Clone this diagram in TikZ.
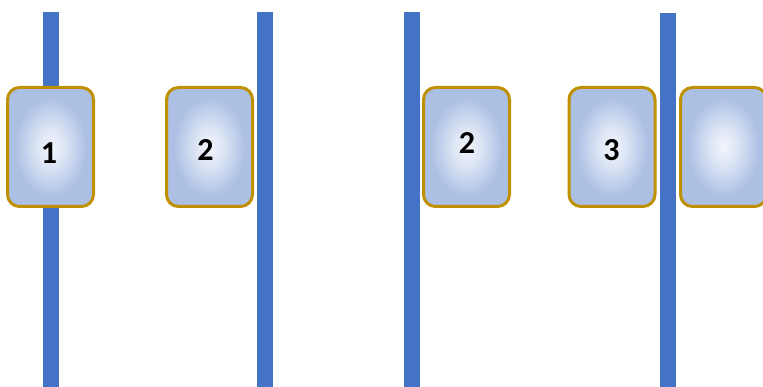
\documentclass[tikz,border=0pt]{standalone}
\usepackage{fontspec}
\newfontfamily\cardfont{Carlito}
\usepackage{tikz}
\pgfdeclarelayer{bg}
\pgfsetlayers{bg,main}
\definecolor{barblue}{RGB}{68,114,196}
\definecolor{cardgold}{RGB}{191,144,0}
\definecolor{cardin}{RGB}{242,245,252}
\definecolor{cardout}{RGB}{172,192,228}
\pgfdeclareradialshading{cardglow}{\pgfpoint{0bp}{0bp}}{%
    color(0bp)=(cardin); color(8bp)=(cardin!70!cardout);
    color(21bp)=(cardout); color(50bp)=(cardout)}
\tikzset{
    card/.style={rectangle, rounded corners=12pt, draw=cardgold, line width=3pt,
        shading=cardglow, minimum width=86pt, minimum height=119pt, inner sep=0pt},
    num/.style={inner sep=0pt, font=\cardfont\bfseries\fontsize{32}{34}\selectfont},
    bar/.style={draw=barblue, line width=16pt}
}

\begin{document}
\begin{tikzpicture}[x=1pt, y=-1pt]
    \clip (0,0) rectangle (763,387);

    \coordinate (b0t) at (51,12);   \coordinate (b0b) at (51,387);
    \coordinate (b1t) at (265,12);  \coordinate (b1b) at (265,387);
    \coordinate (b2t) at (412,12);  \coordinate (b2b) at (412,387);
    \coordinate (b3t) at (668,13);  \coordinate (b3b) at (668,387);

    \begin{pgfonlayer}{bg}
        \draw[bar] (b0t) -- (b0b);
        \draw[bar] (b1t) -- (b1b);
        \draw[bar] (b2t) -- (b2b);
        \draw[bar] (b3t) -- (b3b);
    \end{pgfonlayer}

    \node (c1) [card] at (50.5,147) {};
    \node (c2) [card] at (209.5,147) {};
    \node (c3) [card] at (466.5,147) {};
    \node (c4) [card] at (612,147) {};
    \node (c5) [card] at (723.5,147) {};

    \node (t1) [num] at (49,153) {1};
    \node (t2) [num] at (205.5,150) {2};
    \node (t3) [num] at (467,143) {2};
    \node (t4) [num] at (611.5,150) {3};
\end{tikzpicture}
\end{document}
